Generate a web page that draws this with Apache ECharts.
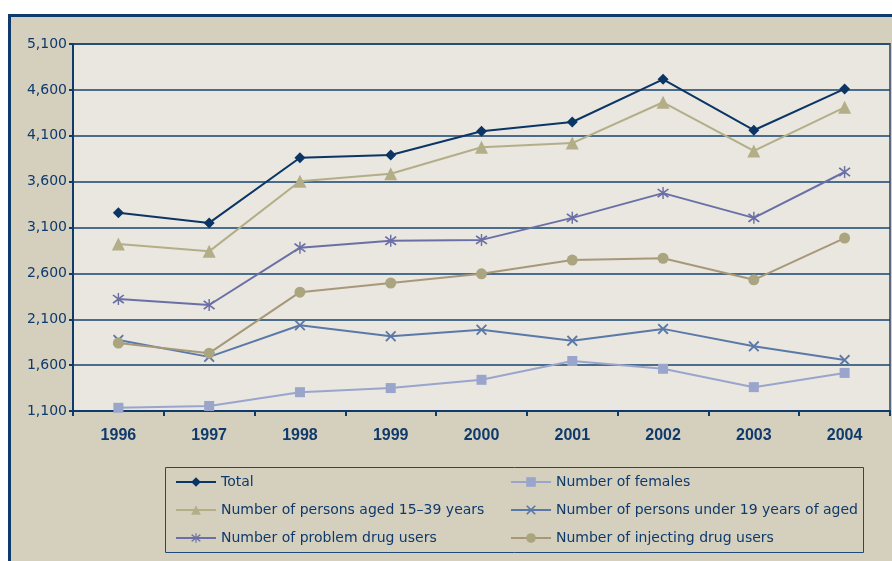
<!DOCTYPE html>
<html><head><meta charset="utf-8">
<script src="https://cdn.jsdelivr.net/npm/echarts@6/dist/echarts.min.js"></script>
<style>html,body{margin:0;padding:0;background:#fff}#c{width:892px;height:561px}</style>
</head><body><div id="c"></div>
<script>
const years = ['1996','1997','1998','1999','2000','2001','2002','2003','2004'];
const yTicks = [1100,1600,2100,2600,3100,3600,4100,4600,5100];
const total = [3260,3150,3860,3890,4150,4250,4715,4160,4610];
const aged1539 = [2920,2840,3605,3685,3975,4020,4465,3935,4410];
const problemUsers = [2320,2255,2880,2955,2965,3205,3475,3205,3705];
const injectingUsers = [1840,1730,2395,2495,2595,2745,2765,2530,2985];
const under19 = [1875,1690,2035,1915,1985,1865,1995,1805,1655];
const females = [1135,1155,1305,1350,1440,1645,1560,1360,1515];

const navy = '#0e3a6c';
const font = 'DejaVu Sans, sans-serif';
const boldFont = 'Liberation Sans, Arial, sans-serif';
const xPath = 'path://M0,1.2L1.2,0L5,3.8L8.8,0L10,1.2L6.2,5L10,8.8L8.8,10L5,6.2L1.2,10L0,8.8L3.8,5Z';
const starPath = 'path://M0,2.1L1.0,1.1L5,4.1L9,1.1L10,2.1L6.1,5L10,7.9L9,8.9L5,5.9L1.0,8.9L0,7.9L3.9,5Z M4.4,0L5.6,0L5.6,10L4.4,10Z';

function s(name, data, color, symbol, size, lineColor){
  return {name, type:'line', data, symbol, symbolSize:size, showSymbol:true,
    lineStyle:{color: lineColor||color, width:2}, itemStyle:{color},
    emphasis:{disabled:true}, z: 3};
}
const series = [
  s('Total', total, '#0b3565', 'diamond', 11),
  s('Number of females', females, '#9aa5cb', 'rect', 10),
  s('Number of persons aged 15\u201339 years', aged1539, '#b3ae88', 'triangle', 13),
  s('Number of persons under 19 years of aged', under19, '#5a79a8', xPath, 11),
  s('Number of problem drug users', problemUsers, '#6a70a6', starPath, 12),
  s('Number of injecting drug users', injectingUsers, '#aaa47f', 'circle', 11, '#a8987a')
];

const chart = echarts.init(document.getElementById('c'));
const legendText = {color: navy, fontSize:14, fontFamily: font};
chart.setOption({
  animation:false,
  backgroundColor:'#fff',
  graphic:[
    {type:'rect', shape:{x:9.5,y:15.5,width:900,height:560}, style:{fill:'#d5cfbe', stroke:navy, lineWidth:3}, z:-10},
    {type:'rect', shape:{x:165.5,y:467.5,width:698,height:85}, style:{fill:'none', stroke:'#1d4a7a', lineWidth:1}, z:10}
  ],
  grid:{left:73, right:2, top:44, bottom:150, show:true, backgroundColor:'#e9e7df', borderColor:'#5b6b7d', borderWidth:2},
  xAxis:{type:'category', data:years, boundaryGap:true,
    axisLine:{lineStyle:{color:navy, width:2}},
    axisTick:{show:true, length:5, lineStyle:{color:navy, width:2}},
    axisLabel:{color:navy, fontSize:16, fontWeight:'bold', fontFamily:boldFont, margin:17},
    splitLine:{show:false}},
  yAxis:{type:'value', min:yTicks[0], max:yTicks[yTicks.length-1], interval:500,
    axisLine:{show:true, lineStyle:{color:navy, width:2}},
    axisTick:{show:true, length:4, lineStyle:{color:navy, width:2}},
    axisLabel:{color:navy, fontSize:14, fontFamily:font, margin:6,
      formatter:v=>v.toLocaleString('en-US')},
    splitLine:{show:true, lineStyle:{color:'#16436f', width:1.5}}},
  legend:[
    {orient:'vertical', left:175, top:475, itemWidth:40, itemHeight:12, itemGap:14,
     data:['Total','Number of persons aged 15\u201339 years','Number of problem drug users'],
     textStyle:legendText, padding:0},
    {orient:'vertical', left:510, top:475, itemWidth:40, itemHeight:12, itemGap:14,
     data:['Number of females','Number of persons under 19 years of aged','Number of injecting drug users'],
     textStyle:legendText, padding:0}
  ],
  series
});
</script></body></html>
